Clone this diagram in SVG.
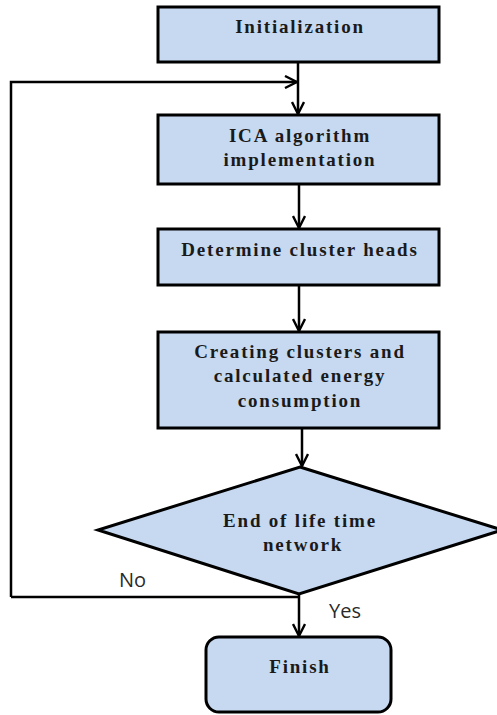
<svg xmlns="http://www.w3.org/2000/svg" width="497" height="715" viewBox="0 0 497 715">
<defs>
<marker id="arr" viewBox="0 0 14 14" refX="13" refY="7" markerWidth="14" markerHeight="14" markerUnits="userSpaceOnUse" orient="auto">
<path d="M1,1 L13,7 L1,13" fill="none" stroke="#000" stroke-width="2.4"/>
</marker>
<style>
.box{fill:#c6d9f1;stroke:#000;stroke-width:3}
.t{font-family:"Liberation Serif","Times New Roman",serif;font-weight:bold;font-size:19px;fill:#1a1a1a;text-anchor:middle;letter-spacing:1.8px}
.lbl{font-family:"Open Sans","Liberation Sans",sans-serif;font-size:20px;fill:#2a2a2a}
.c{fill:none;stroke:#000;stroke-width:2.5}
</style>
</defs>
<rect width="497" height="715" fill="#fff"/>
<g id="connectors">
<path class="c" d="M298,62 V114" marker-end="url(#arr)"/>
<path class="c" d="M11,597 V82 H297" marker-end="url(#arr)"/>
<path class="c" d="M299,184 V228" marker-end="url(#arr)"/>
<path class="c" d="M299,285 V331" marker-end="url(#arr)"/>
<path class="c" d="M302,428 V466" marker-end="url(#arr)"/>
<path class="c" d="M11,597 H299"/>
<path class="c" d="M299,594 V636" marker-end="url(#arr)"/>
</g>
<g id="init">
<rect class="box" x="158" y="7" width="281" height="55"/>
<text class="t" x="300" y="33">Initialization</text>
</g>
<g id="ica">
<rect class="box" x="158" y="115" width="281" height="69"/>
<text class="t" x="300" y="142">ICA algorithm</text>
<text class="t" x="300" y="166">implementation</text>
</g>
<g id="heads">
<rect class="box" x="158" y="229" width="281" height="56"/>
<text class="t" x="300" y="256">Determine cluster heads</text>
</g>
<g id="create">
<rect class="box" x="158" y="332" width="281" height="96"/>
<text class="t" x="300" y="358">Creating clusters and</text>
<text class="t" x="300" y="382">calculated energy</text>
<text class="t" x="300" y="407">consumption</text>
</g>
<g id="decision">
<polygon class="box" points="300,467 502,530 299,594 98,530"/>
<text class="t" x="300" y="527">End of life time</text>
<text class="t" x="303" y="551">network</text>
</g>
<g id="finish">
<rect class="box" x="206" y="637" width="185" height="75" rx="13" ry="13"/>
<text class="t" x="300" y="673">Finish</text>
</g>
<text class="lbl" x="119" y="587">No</text>
<text class="lbl" x="329" y="618">Yes</text>
</svg>
